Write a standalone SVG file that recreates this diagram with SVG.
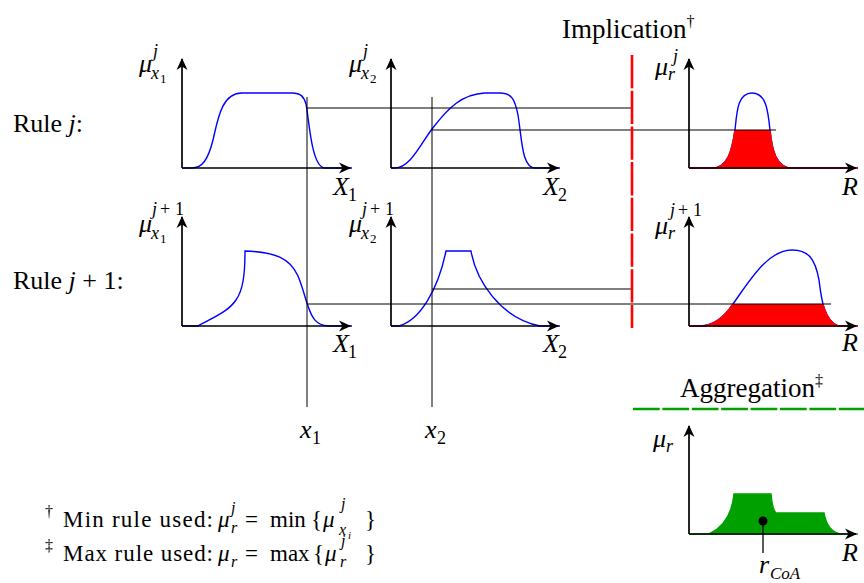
<svg xmlns="http://www.w3.org/2000/svg" width="864" height="583" viewBox="0 0 864 583">
<style>
.txt{font-family:"Liberation Serif","Times New Roman",serif;fill:#000}
.it{font-style:italic}
.up{font-style:normal}
.blue{fill:none;stroke:#0000ff;stroke-width:1.4}
.red{fill:#ff0000;stroke:#ff0000;stroke-width:1.4}
.axis{fill:none;stroke:#000;stroke-width:1.7;marker-end:url(#arr)}
.thin{stroke:#000;stroke-width:1}
</style>
<defs>
<marker id="arr" markerUnits="userSpaceOnUse" markerWidth="16" markerHeight="14" viewBox="-13 -7 16 14" refX="0" refY="0" orient="auto" overflow="visible">
<path d="M1,0 L-11,-5.5 L-7.5,0 L-11,5.5 Z" fill="#000"/>
</marker>
<clipPath id="c1"><rect x="685" y="130" width="179" height="42"/></clipPath>
<clipPath id="c2"><rect x="685" y="304" width="179" height="26"/></clipPath>
</defs>
<rect width="864" height="583" fill="#fff"/>

<g id="labels" class="txt" font-family="Liberation Serif">
<text font-size="26" x="13" y="132">Rule <tspan font-style="italic">j</tspan>:</text>
<text font-size="26" x="13" y="289">Rule <tspan font-style="italic">j</tspan> + 1:</text>
<text font-size="27" x="562" y="38">Implication<tspan font-size="16" dy="-11">†</tspan></text>
<text font-size="27" x="680" y="397">Aggregation<tspan font-size="16" dy="-11">‡</tspan></text>
</g>

<g id="curves">
<path class="blue" d="M182,168 L192,168 C202,168 208,160 213,140 C218,118 222,93 242,93 L292,93 C301,93 304,97 306,104 C309,118 311,165 324,168 L352,168"/>
<path class="blue" d="M391,168 L395,168 C410,168 420,145 432,129 C448,108 462,94 485,93 L500,93 C512,93 515,100 518,115 C522,140 522,168 535,168 L560,168"/>
<path class="blue" d="M689,168 L712,168 C728,168 732,150 735,130 C737,110 738,93 752,93 C766,93 768,110 770,130 C772,150 776,168 792,168 L858,168"/>
<path class="blue" d="M182,326 L198,326 C212,318 228,312 236,300 C243,290 245,275 245,251 C275,252 290,258 298,276 C303,288 305,298 308,306 C312,318 316,325 328,326 L352,326"/>
<path class="blue" d="M391,326 L399,326 C420,320 438,290 446,251 L471,251 C476,280 500,318 540,326 L560,326"/>
<path class="blue" d="M689,326 L700,326 C715,326 725,316 733,304 C750,280 768,250 792,250 C808,250 815,258 819,280 C821,295 823,320 838,326 L858,326"/>
</g>

<g id="implied">
<path class="red" clip-path="url(#c1)" d="M689,168 L712,168 C728,168 732,150 735,130 C737,110 738,93 752,93 C766,93 768,110 770,130 C772,150 776,168 792,168 L858,168 Z"/>
<path class="red" clip-path="url(#c2)" d="M689,326 L700,326 C715,326 725,316 733,304 C750,280 768,250 792,250 C808,250 815,258 819,280 C821,295 823,320 838,326 L858,326 Z"/>
</g>
<path id="aggregated" fill="#00a000" stroke="#00a000" stroke-width="1.4" d="M689,534 L709,534 C722,528 732,515 734,494 L771,494 C772,505 773,510 776,513 L824,513 C826,524 830,532 840,534 L858,534 Z"/>

<g id="axes">
<line class="axis" x1="182" y1="168" x2="182" y2="59"/>
<line class="axis" x1="182" y1="168" x2="350" y2="168"/>
<line class="axis" x1="391" y1="168" x2="391" y2="59"/>
<line class="axis" x1="391" y1="168" x2="558" y2="168"/>
<line class="axis" x1="689" y1="168" x2="689" y2="59"/>
<line class="axis" x1="689" y1="168" x2="856" y2="168"/>
<line class="axis" x1="182" y1="326" x2="182" y2="217"/>
<line class="axis" x1="182" y1="326" x2="350" y2="326"/>
<line class="axis" x1="391" y1="326" x2="391" y2="217"/>
<line class="axis" x1="391" y1="326" x2="558" y2="326"/>
<line class="axis" x1="689" y1="326" x2="689" y2="217"/>
<line class="axis" x1="689" y1="326" x2="856" y2="326"/>
<line class="axis" x1="689" y1="534" x2="689" y2="426"/>
<line class="axis" x1="689" y1="534" x2="856" y2="534"/>
</g>

<g id="axis-labels" class="txt it" font-family="Liberation Serif" font-style="italic">
<text id="lbl-r1-x1"><tspan font-size="26" x="139" y="72">μ</tspan><tspan font-size="18" x="151" y="79">x</tspan><tspan font-size="13" class="up" x="160" y="83">1</tspan><tspan font-size="18" x="153" y="57">j</tspan></text>
<text><tspan font-size="26" x="333" y="195">X</tspan><tspan font-size="18" class="up" x="348" y="201">1</tspan></text>
<text id="lbl-r1-x2"><tspan font-size="26" x="349" y="72">μ</tspan><tspan font-size="18" x="361" y="79">x</tspan><tspan font-size="13" class="up" x="370" y="83">2</tspan><tspan font-size="18" x="363" y="57">j</tspan></text>
<text><tspan font-size="26" x="543" y="195">X</tspan><tspan font-size="18" class="up" x="558" y="201">2</tspan></text>
<text id="lbl-r1-r"><tspan font-size="26" x="655" y="75">μ</tspan><tspan font-size="18" x="668" y="80">r</tspan><tspan font-size="18" x="673" y="62">j</tspan></text>
<text font-size="26" x="842" y="195">R</text>
<text id="lbl-r2-x1"><tspan font-size="26" x="139" y="232">μ</tspan><tspan font-size="18" x="151" y="239">x</tspan><tspan font-size="13" class="up" x="160" y="243">1</tspan><tspan font-size="18" x="152" y="215">j</tspan><tspan font-size="18" class="up" x="160" y="215">+</tspan><tspan font-size="18" class="up" x="175" y="215">1</tspan></text>
<text><tspan font-size="26" x="333" y="352">X</tspan><tspan font-size="18" class="up" x="348" y="358">1</tspan></text>
<text id="lbl-r2-x2"><tspan font-size="26" x="349" y="232">μ</tspan><tspan font-size="18" x="361" y="239">x</tspan><tspan font-size="13" class="up" x="370" y="243">2</tspan><tspan font-size="18" x="362" y="215">j</tspan><tspan font-size="18" class="up" x="370" y="215">+</tspan><tspan font-size="18" class="up" x="385" y="215">1</tspan></text>
<text><tspan font-size="26" x="543" y="352">X</tspan><tspan font-size="18" class="up" x="558" y="358">2</tspan></text>
<text id="lbl-r2-r"><tspan font-size="26" x="655" y="234">μ</tspan><tspan font-size="18" x="668" y="239">r</tspan><tspan font-size="18" x="670" y="216">j</tspan><tspan font-size="18" class="up" x="678" y="216">+</tspan><tspan font-size="18" class="up" x="693" y="216">1</tspan></text>
<text font-size="26" x="842" y="351">R</text>
<text id="lbl-agg"><tspan font-size="26" x="653" y="447">μ</tspan><tspan font-size="18" x="666" y="452">r</tspan></text>
<text font-size="26" x="842" y="561">R</text>
<text><tspan font-size="26" x="759" y="573">r</tspan><tspan font-size="17" x="770" y="579">CoA</tspan></text>
<text><tspan font-size="26" x="300" y="438">x</tspan><tspan font-size="18" class="up" x="312" y="444">1</tspan></text>
<text><tspan font-size="26" x="425" y="438">x</tspan><tspan font-size="18" class="up" x="437" y="444">2</tspan></text>
</g>

<g id="connectors">
<line class="thin" x1="307" y1="97" x2="307" y2="407"/>
<line class="thin" x1="432" y1="97" x2="432" y2="407"/>
<line class="thin" x1="307" y1="108" x2="631" y2="108"/>
<line class="thin" x1="432" y1="130" x2="776" y2="130"/>
<line class="thin" x1="432" y1="289" x2="631" y2="289"/>
<line class="thin" x1="307" y1="304" x2="831" y2="304"/>
<line x1="763" y1="521" x2="763" y2="553" stroke="#000" stroke-width="1.3"/>
<line x1="632" y1="55" x2="632" y2="328" stroke="#ff0000" stroke-width="2.6" stroke-dasharray="33.3 2.4"/>
<line x1="633" y1="409" x2="864" y2="409" stroke="#00a000" stroke-width="2.6" stroke-dasharray="26.7 2.7"/>
</g>
<circle id="coa" cx="763" cy="521" r="4.5" fill="#000"/>

<g id="footnotes" class="txt" font-family="Liberation Serif" font-size="23">
<text><tspan font-size="16" x="45" y="517">†</tspan><tspan x="63" y="527" textLength="150">Min rule used:</tspan><tspan font-style="italic" x="218" y="527">μ</tspan><tspan font-size="16" font-style="italic" x="231" y="533">r</tspan><tspan font-size="16" font-style="italic" x="231" y="513">j</tspan><tspan x="245" y="527">=</tspan><tspan x="270" y="527">min</tspan><tspan x="311" y="527">{</tspan><tspan font-style="italic" x="323" y="527">μ</tspan><tspan font-size="16" font-style="italic" x="339" y="535">x</tspan><tspan font-size="11" font-style="italic" x="348" y="539">i</tspan><tspan font-size="16" font-style="italic" x="341" y="509">j</tspan><tspan x="365" y="527">}</tspan></text>
<text><tspan font-size="16" x="45" y="551">‡</tspan><tspan x="63" y="561" textLength="150">Max rule used:</tspan><tspan font-style="italic" x="218" y="561">μ</tspan><tspan font-size="16" font-style="italic" x="231" y="567">r</tspan><tspan x="245" y="561">=</tspan><tspan x="270" y="561">max</tspan><tspan x="313" y="561">{</tspan><tspan font-style="italic" x="325" y="561">μ</tspan><tspan font-size="16" font-style="italic" x="340" y="567">r</tspan><tspan font-size="16" font-style="italic" x="341" y="546">j</tspan><tspan x="365" y="561">}</tspan></text>
</g>
</svg>
